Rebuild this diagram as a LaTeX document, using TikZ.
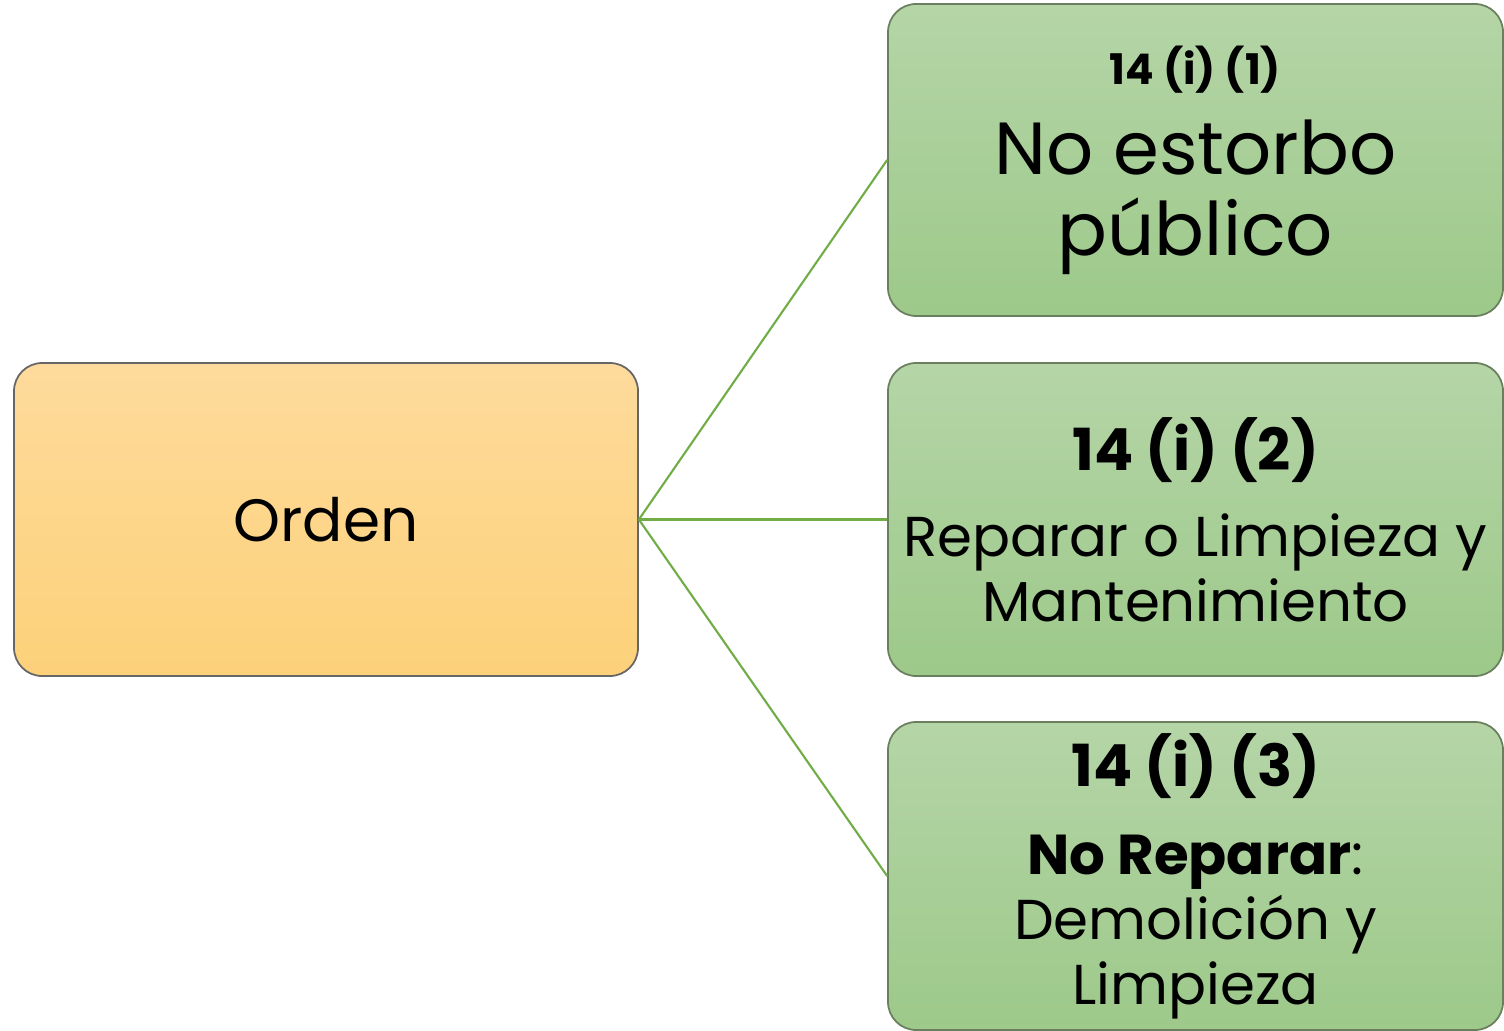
\documentclass[tikz,border=0pt]{standalone}
\usepackage{fontspec}
\setmainfont{Poppins}
\definecolor{ordtop}{HTML}{FEDB9C}
\definecolor{ordbot}{HTML}{FDD17A}
\definecolor{grtop}{HTML}{B5D5A7}
\definecolor{grbot}{HTML}{9DC98A}
\definecolor{grline}{HTML}{6A7F5E}
\definecolor{lnk}{HTML}{70AD47}
\newcommand{\fs}[2]{\fontsize{#1}{#2}\selectfont}

\begin{document}
\begin{tikzpicture}[
   card/.style={rounded corners=8pt, line width=0.5pt, inner sep=0pt, align=center},
   ordcard/.style={card, draw=gray!80!black, top color=ordtop, bottom color=ordbot,
                   minimum width=6.24cm, minimum height=3.13cm},
   grcard/.style={card, draw=grline, top color=grtop, bottom color=grbot,
                  minimum width=6.15cm},
   link/.style={draw=lnk, line width=0.6pt}]
   \useasboundingbox (0,0) rectangle (15.04,-10.31);
   \node[ordcard, font=\fs{17}{20}] (orden) at (3.26,-5.195) {Orden};
   \node[grcard, minimum height=3.12cm, font=\fs{21}{22.8}] (uno) at (11.955,-1.60)
      {{\fs{12}{14}\bfseries 14 (i) (1)}\\[3pt] No estorbo\\ público};
   \node[grcard, minimum height=3.13cm, font=\fs{16}{18.5}] (dos) at (11.955,-5.195)
      {{\fs{16.5}{20}\bfseries 14 (i) (2)}\\[6pt] Reparar o Limpieza y\\ Mantenimiento};
   \node[grcard, minimum height=3.08cm, font=\fs{16}{18.5}] (tres) at (11.955,-8.76)
      {{\fs{16.5}{20}\bfseries 14 (i) (3)}\\[6.5pt] \textbf{No Reparar}:\\ Demolición y\\ Limpieza};
   \foreach \b in {uno,dos,tres} {
    \draw[link] (orden.east) -- (\b.west);
   }
\end{tikzpicture}
\end{document}
